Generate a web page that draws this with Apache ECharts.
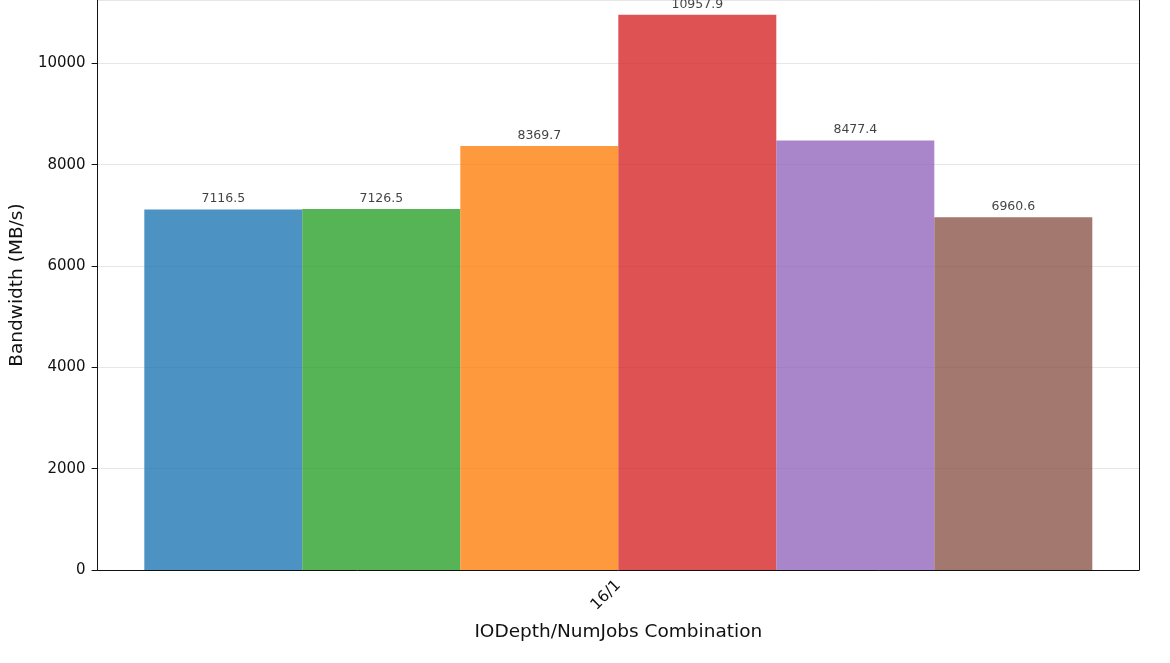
<!DOCTYPE html>
<html>
<head>
<meta charset="utf-8">
<script src="https://cdn.jsdelivr.net/npm/echarts@6/dist/echarts.min.js"></script>
<style>html,body{margin:0;padding:0;background:#fff;}#c{width:1170px;height:663px;}</style>
</head>
<body>
<div id="c"></div>
<script>
const categories = ['16/1'];
const seriesNames = ['Run 1', 'Run 2', 'Run 3', 'Run 4', 'Run 5', 'Run 6'];
const seriesValues = [[7116.5], [7126.5], [8369.7], [10957.9], [8477.4], [6960.6]];
const seriesColors = ['#1f77b4', '#2ca02c', '#ff7f0e', '#d62728', '#9467bd', '#8c564b'];
const yTicks = [0, 2000, 4000, 6000, 8000, 10000];

const font = 'DejaVu Sans';
const chart = echarts.init(document.getElementById('c'), null, {renderer: 'canvas'});
chart.setOption({
  animation: false,
  backgroundColor: '#fff',
  grid: {left: 96, right: 31, top: 0, bottom: 93, containLabel: false, show: false},
  xAxis: {
    type: 'category', data: categories, boundaryGap: true,
    name: 'IODepth/NumJobs Combination', nameLocation: 'middle', nameGap: 53,
    nameTextStyle: {fontFamily: font, fontSize: 18.5, color: '#111'},
    axisLine: {lineStyle: {color: '#111', width: 1}},
    axisTick: {alignWithLabel: true, length: 5, lineStyle: {color: '#111'}},
    axisLabel: {rotate: 45, fontFamily: font, fontSize: 15.5, color: '#111', margin: 13},
    splitLine: {show: false}
  },
  yAxis: [{
    type: 'value', min: 0, max: 11250, interval: 2000,
    name: 'Bandwidth (MB/s)', nameLocation: 'middle', nameGap: 64, nameRotate: 90,
    nameTextStyle: {fontFamily: font, fontSize: 18.5, color: '#111'},
    axisLine: {show: true, lineStyle: {color: '#111', width: 1}},
    axisTick: {show: true, length: 6, lineStyle: {color: '#111'}},
    axisLabel: {fontFamily: font, fontSize: 15, color: '#111', margin: 12, showMaxLabel: false,
      formatter: v => yTicks.includes(v) ? String(v) : ''},
    splitLine: {show: true, lineStyle: {color: '#e6e6e6', width: 1}}
  }, {
    type: 'value', min: 0, max: 11250, interval: 2000, position: 'right',
    axisLine: {show: true, lineStyle: {color: '#111', width: 1}},
    axisTick: {show: false}, axisLabel: {show: false}, splitLine: {show: false}
  }],
  series: seriesNames.map((n, i) => ({
    name: n, type: 'bar', data: seriesValues[i], yAxisIndex: 0,
    barWidth: 158, barGap: '0%',
    itemStyle: {color: seriesColors[i], opacity: 0.8},
    label: {show: true, position: 'top', distance: 4, fontFamily: font, fontSize: 12.5, color: '#111',
      formatter: p => p.value.toFixed(1)}
  }))
});
</script>
</body>
</html>
